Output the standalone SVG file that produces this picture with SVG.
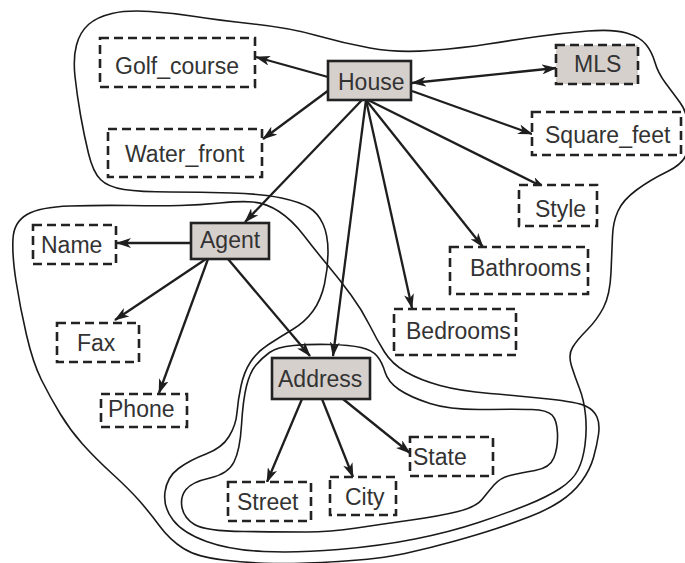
<svg xmlns="http://www.w3.org/2000/svg" width="685" height="563" viewBox="0 0 685 563">
<style>
.blob{fill:none;stroke:#1a1a1a;stroke-width:1.6}
.att{fill:#fff;stroke:#222;stroke-width:2.6;stroke-dasharray:9,5}
.ent{fill:#d6d0cd;stroke:#222;stroke-width:2.6}
.entd{fill:#d6d0cd;stroke:#222;stroke-width:2.6;stroke-dasharray:9,5}
.lbl{font-family:"Liberation Sans",Arial,sans-serif;font-size:23px;fill:#333}
.edge{stroke:#1e1e1e;stroke-width:2.3;fill:none;marker-end:url(#ah)}
</style>
<defs>
<marker id="ah" viewBox="0 0 15 10" refX="14" refY="5" markerWidth="15" markerHeight="10" markerUnits="userSpaceOnUse" orient="auto-start-reverse">
<path d="M0,0 L15,5 L0,10 L4,5 Z" fill="#1e1e1e"/>
</marker>
</defs>
<rect width="685" height="563" fill="#fff"/>
<g id="regions">
<path id="house-region" class="blob" d="M75,76.5 Q73,58 76.5,45 Q80,32 88.5,24.5 Q97,17 112,13.5 Q127,10 150,11.5 Q173,13 195,16.5 Q217,20 253.5,24 Q290,28 316.5,35.5 Q343,43 370,48 Q397,53 430,50.5 Q463,48 488,44 Q513,40 538,36.5 Q563,33 588,31 Q613,29 626.5,33 Q640,37 646,44.5 Q652,52 655,62.5 Q658,73 665.5,83 Q673,93 680,102.5 Q687,112 688,126 Q689,140 687,151.5 Q685,163 667.5,171.5 Q650,180 636.5,190 Q623,200 618,211 Q613,222 612.5,236 Q612,250 611,272.5 Q610,295 603.5,307.5 Q597,320 587,330 Q577,340 572.5,347.5 Q568,355 571.5,366 Q575,377 579.5,388.5 Q584,400 585.5,415 Q587,430 585,445 Q583,460 578,470 Q573,480 560,488.5 Q547,497 527,505 Q507,513 478.5,522.5 Q450,532 415,539 Q380,546 338.5,549.5 Q297,553 263.5,551.5 Q230,550 206.5,541.5 Q183,533 173,520 Q163,507 165,492 Q167,477 178.5,468.5 Q190,460 206,454 Q222,448 229,436.5 Q236,425 237,412.5 Q238,400 241,386 Q244,372 250.5,362 Q257,352 268.5,344.5 Q280,337 292.5,329.5 Q305,322 313,311 Q321,300 324.5,284 Q328,268 328,251.5 Q328,235 323,224 Q318,213 309,207.5 Q300,202 281.5,198 Q263,194 231.5,193 Q200,192 170,192 Q140,192 124,189.5 Q108,187 100.5,179.5 Q93,172 88.5,153.5 Q84,135 80.5,115 Q77,95 75,76.5 Z"/>
<path id="agent-region" class="blob" d="M13,238.5 Q14,222 27,214.5 Q40,207 70,206 Q100,205 130,205.5 Q160,206 180,205.5 Q200,205 220,203 Q240,201 253,202 Q266,203 279,211.5 Q292,220 303.5,235 Q315,250 327.5,265 Q340,280 351,295 Q362,310 369.5,325 Q377,340 384.5,352 Q392,364 406,372 Q420,380 440,385.5 Q460,391 490,393.5 Q520,396 548.5,399 Q577,402 585.5,406 Q594,410 597,417 Q600,424 598.5,434.5 Q597,445 593.5,457.5 Q590,470 581.5,481.5 Q573,493 560,501.5 Q547,510 530,516.5 Q513,523 496.5,528.5 Q480,534 455,541 Q430,548 405,553.5 Q380,559 338.5,561.5 Q297,564 273.5,563.5 Q250,563 223.5,560 Q197,557 183.5,548.5 Q170,540 160,526.5 Q150,513 140,501.5 Q130,490 112.5,474 Q95,458 82.5,444 Q70,430 60,413.5 Q50,397 41.5,380 Q33,363 26.5,335 Q20,307 16,281 Q12,255 13,238.5 Z"/>
<path id="address-region" class="blob" d="M256,365 Q262,358 269.5,352.5 Q277,347 293.5,345.5 Q310,344 330,344.5 Q350,345 361,347.5 Q372,350 377,356 Q382,362 385,372 Q388,382 399,389.5 Q410,397 430,403.5 Q450,410 483.5,409.5 Q517,409 532,409.5 Q547,410 552,415 Q557,420 557.5,433.5 Q558,447 554,457.5 Q550,468 535,470.5 Q520,473 510,475.5 Q500,478 494,485 Q488,492 482,499.5 Q476,507 458,511.5 Q440,516 411.5,520 Q383,524 356.5,528 Q330,532 306.5,532 Q283,532 244,531.5 Q205,531 194.5,524.5 Q184,518 182,507.5 Q180,497 186,489.5 Q192,482 210,478 Q228,474 234,462 Q240,450 241.5,425 Q243,400 246.5,386 Q250,372 256,365 Z"/>
</g>
<g id="connectors">
<line class="edge" x1="328" y1="77" x2="256" y2="57"/>
<line class="edge" x1="329" y1="90" x2="263" y2="139"/>
<line class="edge" x1="412" y1="83" x2="556" y2="68" marker-start="url(#ah)"/>
<line class="edge" x1="412" y1="91" x2="532" y2="134"/>
<line class="edge" x1="368" y1="100" x2="545" y2="188"/>
<line class="edge" x1="366" y1="100" x2="483" y2="247"/>
<line class="edge" x1="366" y1="100" x2="412" y2="308"/>
<line class="edge" x1="366" y1="100" x2="333" y2="356"/>
<line class="edge" x1="362" y1="100" x2="245" y2="222"/>
<line class="edge" x1="191" y1="243" x2="117" y2="243"/>
<line class="edge" x1="206" y1="259" x2="115" y2="320"/>
<line class="edge" x1="208" y1="259" x2="159" y2="393"/>
<line class="edge" x1="228" y1="259" x2="310" y2="356"/>
<line class="edge" x1="302" y1="399" x2="267" y2="482"/>
<line class="edge" x1="322" y1="399" x2="353" y2="477"/>
<line class="edge" x1="343" y1="399" x2="410" y2="453"/>
</g>
<g id="Golf_course"><rect class="att" x="100" y="38" width="155" height="49"/><text class="lbl" x="115" y="74">Golf_course</text></g>
<g id="House"><rect class="ent" x="328" y="61" width="83" height="39"/><text class="lbl" x="338" y="90">House</text></g>
<g id="MLS"><rect class="entd" x="556" y="45" width="82" height="39"/><text class="lbl" x="574" y="72">MLS</text></g>
<g id="Water_front"><rect class="att" x="108" y="129" width="154" height="48"/><text class="lbl" x="125" y="162">Water_front</text></g>
<g id="Square_feet"><rect class="att" x="532" y="112" width="149" height="43"/><text class="lbl" x="545" y="143">Square_feet</text></g>
<g id="Style"><rect class="att" x="519" y="185" width="78" height="41"/><text class="lbl" x="535" y="217">Style</text></g>
<g id="Bathrooms"><rect class="att" x="450" y="247" width="138" height="47"/><text class="lbl" x="470" y="276">Bathrooms</text></g>
<g id="Bedrooms"><rect class="att" x="394" y="309" width="122" height="46"/><text class="lbl" x="406" y="339">Bedrooms</text></g>
<g id="Agent"><rect class="ent" x="191" y="223" width="78" height="36"/><text class="lbl" x="200" y="248">Agent</text></g>
<g id="Name"><rect class="att" x="33" y="225" width="83" height="39"/><text class="lbl" x="41" y="253">Name</text></g>
<g id="Fax"><rect class="att" x="57" y="323" width="82" height="39"/><text class="lbl" x="77" y="351">Fax</text></g>
<g id="Phone"><rect class="att" x="101" y="394" width="86" height="33"/><text class="lbl" x="108" y="417">Phone</text></g>
<g id="Address"><rect class="ent" x="272" y="358" width="98" height="41"/><text class="lbl" x="278" y="387">Address</text></g>
<g id="Street"><rect class="att" x="228" y="482" width="83" height="39"/><text class="lbl" x="237" y="510">Street</text></g>
<g id="City"><rect class="att" x="330" y="477" width="66" height="38"/><text class="lbl" x="345" y="505">City</text></g>
<g id="State"><rect class="att" x="410" y="437" width="83" height="39"/><text class="lbl" x="413" y="465">State</text></g>
</svg>
